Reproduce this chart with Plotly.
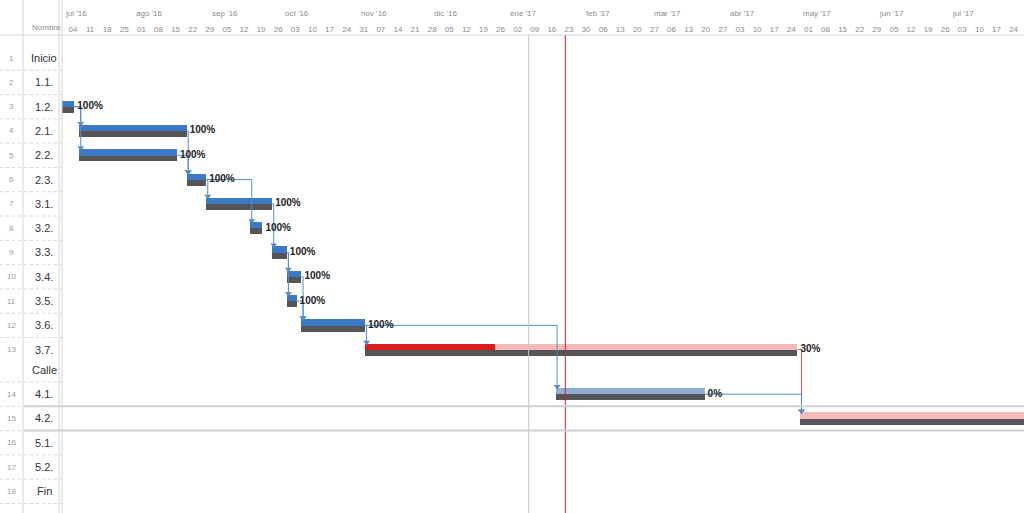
import plotly.graph_objects as go
import pandas as pd

# ---------------- data ----------------
row_names = ["Inicio", "1.1.", "1.2.", "2.1.", "2.2.", "2.3.", "3.1.", "3.2.", "3.3.",
             "3.4.", "3.5.", "3.6.", "3.7.", "4.1.", "4.2.", "5.1.", "5.2.", "Fin"]
row_second_line = {"3.7.": "Calle"}

task_rows = ["1.2.", "2.1.", "2.2.", "2.3.", "3.1.", "3.2.", "3.3.", "3.4.", "3.5.",
             "3.6.", "3.7.", "4.1.", "4.2."]
task_start = ["2016-06-27", "2016-07-10", "2016-07-10", "2016-08-23", "2016-08-31",
              "2016-09-18", "2016-09-27", "2016-10-03", "2016-10-03", "2016-10-09",
              "2016-11-04", "2017-01-21", "2017-05-01"]
task_finish = ["2016-07-08", "2016-08-23", "2016-08-19", "2016-08-31", "2016-09-27",
               "2016-09-23", "2016-10-03", "2016-10-09", "2016-10-07", "2016-11-04",
               "2017-04-30", "2017-03-23", "2017-09-30"]
task_pct = [100, 100, 100, 100, 100, 100, 100, 100, 100, 100, 30, 0, 0]
task_critical = [False, False, False, False, False, False, False, False, False, False,
                 True, False, True]

links = [("1.2.", "2.1."), ("1.2.", "2.2."), ("2.1.", "2.3."), ("2.2.", "2.3."),
         ("2.3.", "3.1."), ("2.3.", "3.2."), ("3.1.", "3.3."), ("3.3.", "3.4."),
         ("3.3.", "3.5."), ("3.4.", "3.6."), ("3.5.", "3.6."), ("3.6.", "3.7."),
         ("3.6.", "4.1."), ("3.7.", "4.2."), ("4.1.", "4.2.")]

month_labels = ["jul '16", "ago '16", "sep '16", "oct '16", "nov '16", "dic '16", "ene '17",
                "feb '17", "mar '17", "abr '17", "may '17", "jun '17", "jul '17"]
month_starts = ["2016-07-01", "2016-08-01", "2016-09-01", "2016-10-01", "2016-11-01",
                "2016-12-01", "2017-01-01", "2017-02-01", "2017-03-01", "2017-04-01",
                "2017-05-01", "2017-06-01", "2017-07-01"]
status_date = "2017-01-10"
current_date = "2017-01-25"
view_start = "2016-07-03"
view_end = "2017-07-31 18:00"

# ---------------- layout helpers ----------------
W, H = 1024, 513
L, T = 62, 35
PW, PH = W - L, H - T
ROW_PX = 24.3
Y_MAX = PH / ROW_PX


def row_center(name):
    i = row_names.index(name) + 1
    return i - 0.05 + (0.83 if i >= 14 else 0.0)


def px2paper(px):
    return (px - L) / PW


NARROW = "Liberation Sans Narrow, Arial Narrow, Liberation Sans, Arial"

BLUE = "#3b79c4"
BLUE_LIGHT = "#8eaed3"
RED = "#d81c1c"
PINK = "#f3b9bb"
BASE = "#555555"
LINK_BLUE = "#4f8ccf"
LINK_RED = "#d0565a"

fig = go.Figure()

starts = pd.to_datetime(task_start)
finishes = pd.to_datetime(task_finish)
centers = [row_center(r) for r in task_rows]
v_end = pd.Timestamp(view_end)

# baseline (bottom half)
fig.add_trace(go.Bar(
    orientation="h",
    base=[s.strftime("%Y-%m-%d %H:%M") for s in starts],
    x=[(f - s).total_seconds() * 1000 for s, f in zip(starts, finishes)],
    y=[c + 0.13 for c in centers],
    width=0.25,
    marker=dict(color=BASE, line=dict(width=0)),
    hoverinfo="skip", showlegend=False,
))

# task progress + remaining (top half)
prog_base, prog_len, prog_y, prog_col = [], [], [], []
rem_base, rem_len, rem_y, rem_col = [], [], [], []
for s, f, c, p, crit in zip(starts, finishes, centers, task_pct, task_critical):
    dur = f - s
    mid = s + dur * (p / 100.0)
    if p > 0:
        prog_base.append(s.strftime("%Y-%m-%d %H:%M"))
        prog_len.append((mid - s).total_seconds() * 1000)
        prog_y.append(c - 0.12)
        prog_col.append(RED if crit else BLUE)
    if p < 100:
        rem_base.append(mid.strftime("%Y-%m-%d %H:%M"))
        rem_len.append((f - mid).total_seconds() * 1000)
        rem_y.append(c - 0.12)
        rem_col.append(PINK if crit else BLUE_LIGHT)

fig.add_trace(go.Bar(orientation="h", base=prog_base, x=prog_len, y=prog_y, width=0.26,
                     marker=dict(color=prog_col, line=dict(width=0)),
                     hoverinfo="skip", showlegend=False))
fig.add_trace(go.Bar(orientation="h", base=rem_base, x=rem_len, y=rem_y, width=0.26,
                     marker=dict(color=rem_col, line=dict(width=0)),
                     hoverinfo="skip", showlegend=False))

# dependency links
task_idx = {r: k for k, r in enumerate(task_rows)}
off = pd.Timedelta(hours=16)
for p_name, s_name in links:
    pi, si = task_idx[p_name], task_idx[s_name]
    pe, ss = finishes[pi], starts[si]
    xt = max(pe, ss) + off
    yp, ys = centers[pi], centers[si]
    crit = task_critical[pi] and task_critical[si]
    col = LINK_RED if crit else LINK_BLUE
    fig.add_trace(go.Scatter(
        x=[pe, xt, xt], y=[yp, yp, ys - 0.3], mode="lines",
        line=dict(color=col, width=1), hoverinfo="skip", showlegend=False))
    fig.add_trace(go.Scatter(
        x=[xt], y=[ys - 0.31], mode="markers",
        marker=dict(symbol="triangle-down", size=6, color=col),
        hoverinfo="skip", showlegend=False))

# percent labels (only for bars ending inside the view)
lab_x, lab_y, lab_t = [], [], []
for f, c, p in zip(finishes, centers, task_pct):
    if f < v_end:
        lab_x.append(f + pd.Timedelta(hours=30))
        lab_y.append(c)
        lab_t.append("<b>%d%%</b>" % p)
fig.add_trace(go.Scatter(
    x=lab_x, y=lab_y, mode="text",
    text=lab_t, textposition="middle right",
    textfont=dict(family=NARROW, size=10, color="#222222"),
    hoverinfo="skip", showlegend=False))

# vertical lines (status / current date)
fig.add_shape(type="line", xref="x", yref="paper", x0=status_date, x1=status_date, y0=0, y1=1,
              line=dict(color="#c6c6c6", width=1))
fig.add_shape(type="line", xref="x", yref="paper", x0=current_date, x1=current_date, y0=0, y1=1,
              line=dict(color="#c0262c", width=1))

# selected row borders (row 15)
c15 = row_center("4.2.")
for yy in (c15 - 0.5, c15 + 0.5):
    fig.add_shape(type="line", xref="paper", yref="y", x0=px2paper(24), x1=1, y0=yy, y1=yy,
                  line=dict(color="#cfcfcf", width=2))

# table on the left
for i, name in enumerate(row_names, start=1):
    c = row_center(name)
    fig.add_annotation(xref="paper", yref="y", x=px2paper(11), y=c, text=str(i),
                       showarrow=False, xanchor="center",
                       font=dict(family=NARROW, size=8, color="#9a9a9a"))
    fig.add_annotation(xref="paper", yref="y", x=px2paper(44), y=c, text=name,
                       showarrow=False, xanchor="center",
                       font=dict(family=NARROW, size=11, color="#333333"))
    bottom = c + 0.5
    if name in row_second_line:
        fig.add_annotation(xref="paper", yref="y", x=px2paper(44), y=c + 0.83,
                           text=row_second_line[name], showarrow=False, xanchor="center",
                           font=dict(family=NARROW, size=11, color="#333333"))
        bottom = c + 1.33
    fig.add_shape(type="line", xref="paper", yref="y", x0=px2paper(0), x1=px2paper(61),
                  y0=bottom, y1=bottom, line=dict(color="#d6d6d6", width=1, dash="dot"))

for xpx in (23, 59, 62):
    fig.add_shape(type="line", xref="paper", yref="paper", x0=px2paper(xpx), x1=px2paper(xpx),
                  y0=0, y1=1 + T / PH, line=dict(color="#d4d4d4", width=1))

# header
fig.add_shape(type="line", xref="paper", yref="paper", x0=px2paper(0), x1=1, y0=1, y1=1,
              line=dict(color="#d0d0d0", width=1))
fig.add_annotation(xref="paper", yref="paper", x=px2paper(63), y=1 + 1 / PH, text="Nombre",
                   showarrow=False, font=dict(family=NARROW, size=8, color="#8a8a8a"),
                   xanchor="right", yanchor="bottom")
vs = pd.Timestamp(view_start)
for lab, ms in zip(month_labels, month_starts):
    x_m = max(pd.Timestamp(ms), vs) + pd.Timedelta(hours=12)
    fig.add_annotation(xref="x", yref="paper", x=x_m, y=1 + 15 / PH, text=lab,
                       showarrow=False, xanchor="left", yanchor="bottom",
                       font=dict(family=NARROW, size=8, color="#8a8a8a"))

mondays = pd.date_range("2016-07-04", view_end, freq="7D")
week_vals = [m + pd.Timedelta(hours=84) for m in mondays]
week_text = ["%02d" % m.day for m in mondays]

fig.update_layout(
    width=W, height=H,
    margin=dict(l=L, r=0, t=T, b=0, pad=0, autoexpand=False),
    paper_bgcolor="white", plot_bgcolor="white",
    barmode="overlay", bargap=0,
    showlegend=False,
    xaxis=dict(type="date", range=[view_start, view_end], side="top", automargin=False,
               tickvals=week_vals, ticktext=week_text, ticks="", showgrid=False,
               zeroline=False, showline=False,
               tickfont=dict(family=NARROW, size=8, color="#8a8a8a")),
    yaxis=dict(range=[Y_MAX, 0], visible=False, showgrid=False, zeroline=False,
               automargin=False),
)

fig.write_html("out.html", config={"displayModeBar": False},
               post_script="document.body.style.margin='0';document.body.style.padding='0';")
